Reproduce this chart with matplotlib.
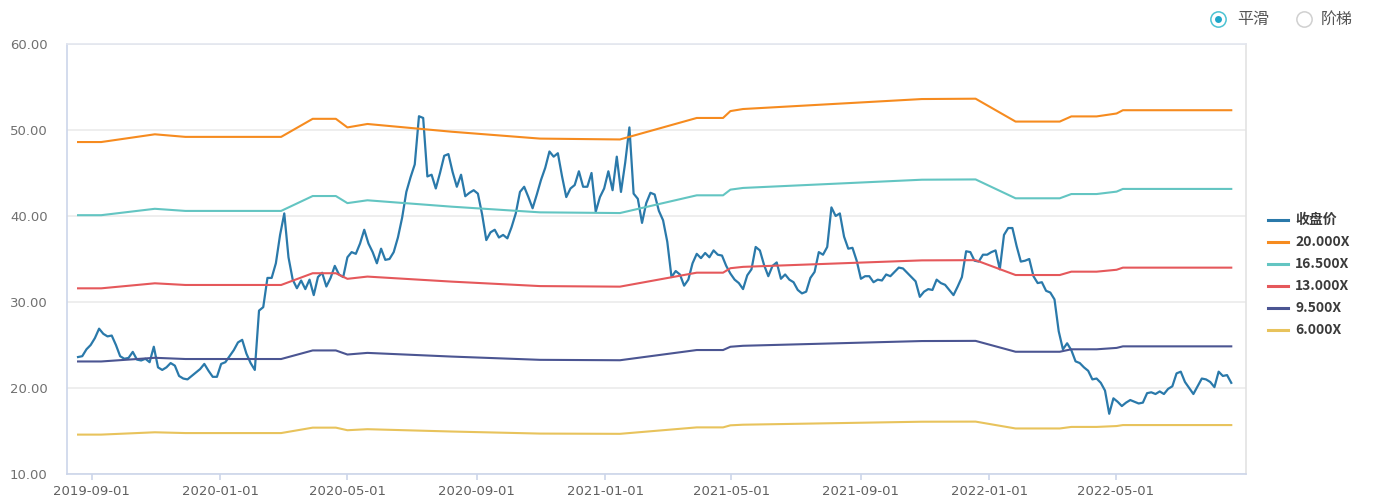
#!/usr/bin/env python3
"""PE band chart: closing price against EPS x multiple bands."""

from __future__ import annotations

import matplotlib

matplotlib.use("Agg")

import matplotlib.dates as mdates
import matplotlib.pyplot as plt
import pandas as pd
from matplotlib.lines import Line2D

# closing price, one value every 4 days starting 2019-08-19
close_start = "2019-08-19"
close_step = "4D"
close = [
    23.6, 23.7, 24.5, 25.0, 25.8, 26.9, 26.3, 26.0, 26.1, 25.0,
    23.7, 23.4, 23.5, 24.2, 23.3, 23.2, 23.4, 23.0, 24.8, 22.4,
    22.1, 22.4, 22.9, 22.6, 21.4, 21.1, 21.0, 21.4, 21.8, 22.2,
    22.8, 22.0, 21.3, 21.3, 22.8, 23.0, 23.7, 24.4, 25.3, 25.6,
    24.0, 22.9, 22.1, 29.0, 29.4, 32.8, 32.8, 34.5, 37.8, 40.3,
    35.2, 32.6, 31.6, 32.5, 31.5, 32.6, 30.8, 32.9, 33.4, 31.8,
    32.8, 34.2, 33.2, 32.9, 35.2, 35.8, 35.6, 36.8, 38.4, 36.8,
    35.8, 34.5, 36.2, 34.9, 35.0, 35.8, 37.5, 39.8, 42.8, 44.5,
    46.0, 51.6, 51.4, 44.6, 44.8, 43.2, 45.0, 47.0, 47.2, 45.1,
    43.4, 44.8, 42.3, 42.7, 43.0, 42.6, 40.2, 37.2, 38.1, 38.4,
    37.5, 37.8, 37.4, 38.7, 40.3, 42.8, 43.4, 42.2, 40.9, 42.5,
    44.2, 45.6, 47.5, 46.9, 47.3, 44.6, 42.2, 43.2, 43.6, 45.2,
    43.4, 43.4, 45.0, 40.5, 42.2, 43.2, 45.2, 43.0, 46.9, 42.8,
    46.2, 50.3, 42.6, 42.0, 39.2, 41.5, 42.7, 42.5, 40.6, 39.5,
    37.0, 32.9, 33.6, 33.2, 31.9, 32.6, 34.5, 35.6, 35.1, 35.7,
    35.2, 36.0, 35.5, 35.4, 34.2, 33.3, 32.6, 32.2, 31.5, 33.1,
    33.8, 36.4, 36.0, 34.3, 33.0, 34.2, 34.6, 32.7, 33.2, 32.6,
    32.3, 31.4, 31.0, 31.2, 32.8, 33.5, 35.8, 35.5, 36.4, 41.0,
    40.0, 40.3, 37.6, 36.2, 36.3, 34.8, 32.7, 33.0, 33.0, 32.3,
    32.6, 32.5, 33.2, 33.0, 33.5, 34.0, 33.9, 33.4, 32.9, 32.4,
    30.6, 31.2, 31.5, 31.4, 32.6, 32.2, 32.0, 31.4, 30.8, 31.8,
    32.9, 35.9, 35.8, 34.8, 34.7, 35.5, 35.5, 35.8, 36.0, 33.8,
    37.8, 38.6, 38.6, 36.5, 34.7, 34.8, 35.0, 33.0, 32.2, 32.3,
    31.3, 31.1, 30.3, 26.6, 24.5, 25.2, 24.4, 23.1, 22.9, 22.4,
    22.0, 21.0, 21.1, 20.6, 19.7, 17.0, 18.8, 18.4, 17.9, 18.3,
    18.6, 18.4, 18.2, 18.3, 19.4, 19.5, 19.3, 19.6, 19.3, 19.9,
    20.2, 21.7, 21.9, 20.7, 20.0, 19.3, 20.2, 21.1, 21.0, 20.7,
    20.1, 21.9, 21.4, 21.5, 20.6,
]

# EPS used for the bands (band = eps * multiple)
eps_dates = [
    "2019-08-19", "2019-09-10", "2019-10-31", "2019-11-29", "2020-02-28",
    "2020-03-29", "2020-04-20", "2020-05-01", "2020-05-20", "2020-08-08",
    "2020-10-31", "2021-01-15", "2021-03-29", "2021-04-23", "2021-04-30",
    "2021-05-12", "2021-10-29", "2021-12-19", "2022-01-26", "2022-03-09",
    "2022-03-20", "2022-04-13", "2022-05-02", "2022-05-08", "2022-08-19",
]
eps_values = [
    2.430, 2.430, 2.475, 2.460, 2.460,
    2.565, 2.565, 2.515, 2.535, 2.490,
    2.450, 2.445, 2.570, 2.570, 2.610,
    2.622, 2.680, 2.682, 2.549, 2.549,
    2.579, 2.579, 2.596, 2.615, 2.615,
]
multiples = [20.0, 16.5, 13.0, 9.5, 6.0]

series_labels = ["收盘价"] + [f"{m:.3f}X" for m in multiples]
colors = ["#2a79aa", "#f68b1f", "#63c5c2", "#e5585b", "#4b5592", "#e8c35c"]

x_ticks = ["2019-09-01", "2020-01-01", "2020-05-01", "2020-09-01",
           "2021-01-01", "2021-05-01", "2021-09-01", "2022-01-01", "2022-05-01"]
y_ticks = [10, 20, 30, 40, 50, 60]

W, H = 1373, 503
FONTS = ["Noto Sans CJK SC", "DejaVu Sans"]


def px(x: float, y: float) -> tuple[float, float]:
    """Figure fraction from pixel position (top-left origin)."""
    return x / W, 1 - y / H


def main() -> None:
    plt.rcParams["font.family"] = FONTS
    fig = plt.figure(figsize=(W / 100, H / 100), dpi=100)
    ax = fig.add_axes([67 / W, 29 / H, (1246 - 67) / W, (474 - 44) / H])

    close_dates = pd.date_range(close_start, periods=len(close), freq=close_step)
    band_dates = pd.to_datetime(eps_dates)

    ax.plot(close_dates, close, color=colors[0], lw=1.6, zorder=3)
    for m, c in zip(multiples, colors[1:]):
        ax.plot(band_dates, [e * m for e in eps_values], color=c, lw=1.5, zorder=4)

    ax.set_ylim(10, 60)
    ax.set_yticks(y_ticks, [f"{v:.2f}" for v in y_ticks])
    ax.set_xlim(pd.Timestamp("2019-08-08 12:00"), pd.Timestamp("2022-09-02"))
    ax.set_xticks(pd.to_datetime(x_ticks), x_ticks)
    ax.xaxis.set_major_formatter(mdates.DateFormatter("%Y-%m-%d"))

    ax.grid(axis="y", color="#ebebeb", lw=1.2)
    ax.set_axisbelow(True)
    for side, col in (("left", "#ccd5ea"), ("bottom", "#ccd5ea"),
                      ("right", "#e3e3e3"), ("top", "#e3e6ef")):
        ax.spines[side].set_color(col)
        ax.spines[side].set_linewidth(1.2)
    ax.tick_params(axis="y", length=0, pad=14, labelsize=9.5, labelcolor="#707070")
    ax.tick_params(axis="x", length=4, width=1.2, color="#ccd5ea", pad=4,
                   labelsize=9.5, labelcolor="#606060")
    for lab in ax.get_xticklabels() + ax.get_yticklabels():
        lab.set_family("DejaVu Sans")

    # legend on the right
    for i, (lab, c) in enumerate(zip(series_labels, colors)):
        y = 220 + 22 * i
        (x0, yy), (x1, _) = px(1268, y), px(1288, y)
        fig.add_artist(Line2D([x0, x1], [yy, yy], color=c, lw=2.2,
                              transform=fig.transFigure))
        fig.text(*px(1295, y), lab, ha="left", va="center", fontsize=10,
                 fontweight="bold", color="#3a3a3a")

    # smooth / step radio switch at the top right
    for xc, selected in ((1218, True), (1304, False)):
        fx, fy = px(xc, 19)
        fig.add_artist(Line2D([fx], [fy], marker="o", markersize=11,
                              markerfacecolor="white", markeredgewidth=1.1,
                              markeredgecolor="#4cc3d3" if selected else "#d0d0d0",
                              transform=fig.transFigure))
        if selected:
            fig.add_artist(Line2D([fx], [fy], marker="o", markersize=5,
                                  markerfacecolor="#1ea6c9", markeredgewidth=0,
                                  transform=fig.transFigure))
    fig.text(*px(1237, 19), "平滑", ha="left", va="center", fontsize=11.5, color="#555555")
    fig.text(*px(1321, 19), "阶梯", ha="left", va="center", fontsize=11.5, color="#555555")

    fig.savefig("out.png", dpi=100)
    plt.close(fig)


if __name__ == "__main__":
    main()
